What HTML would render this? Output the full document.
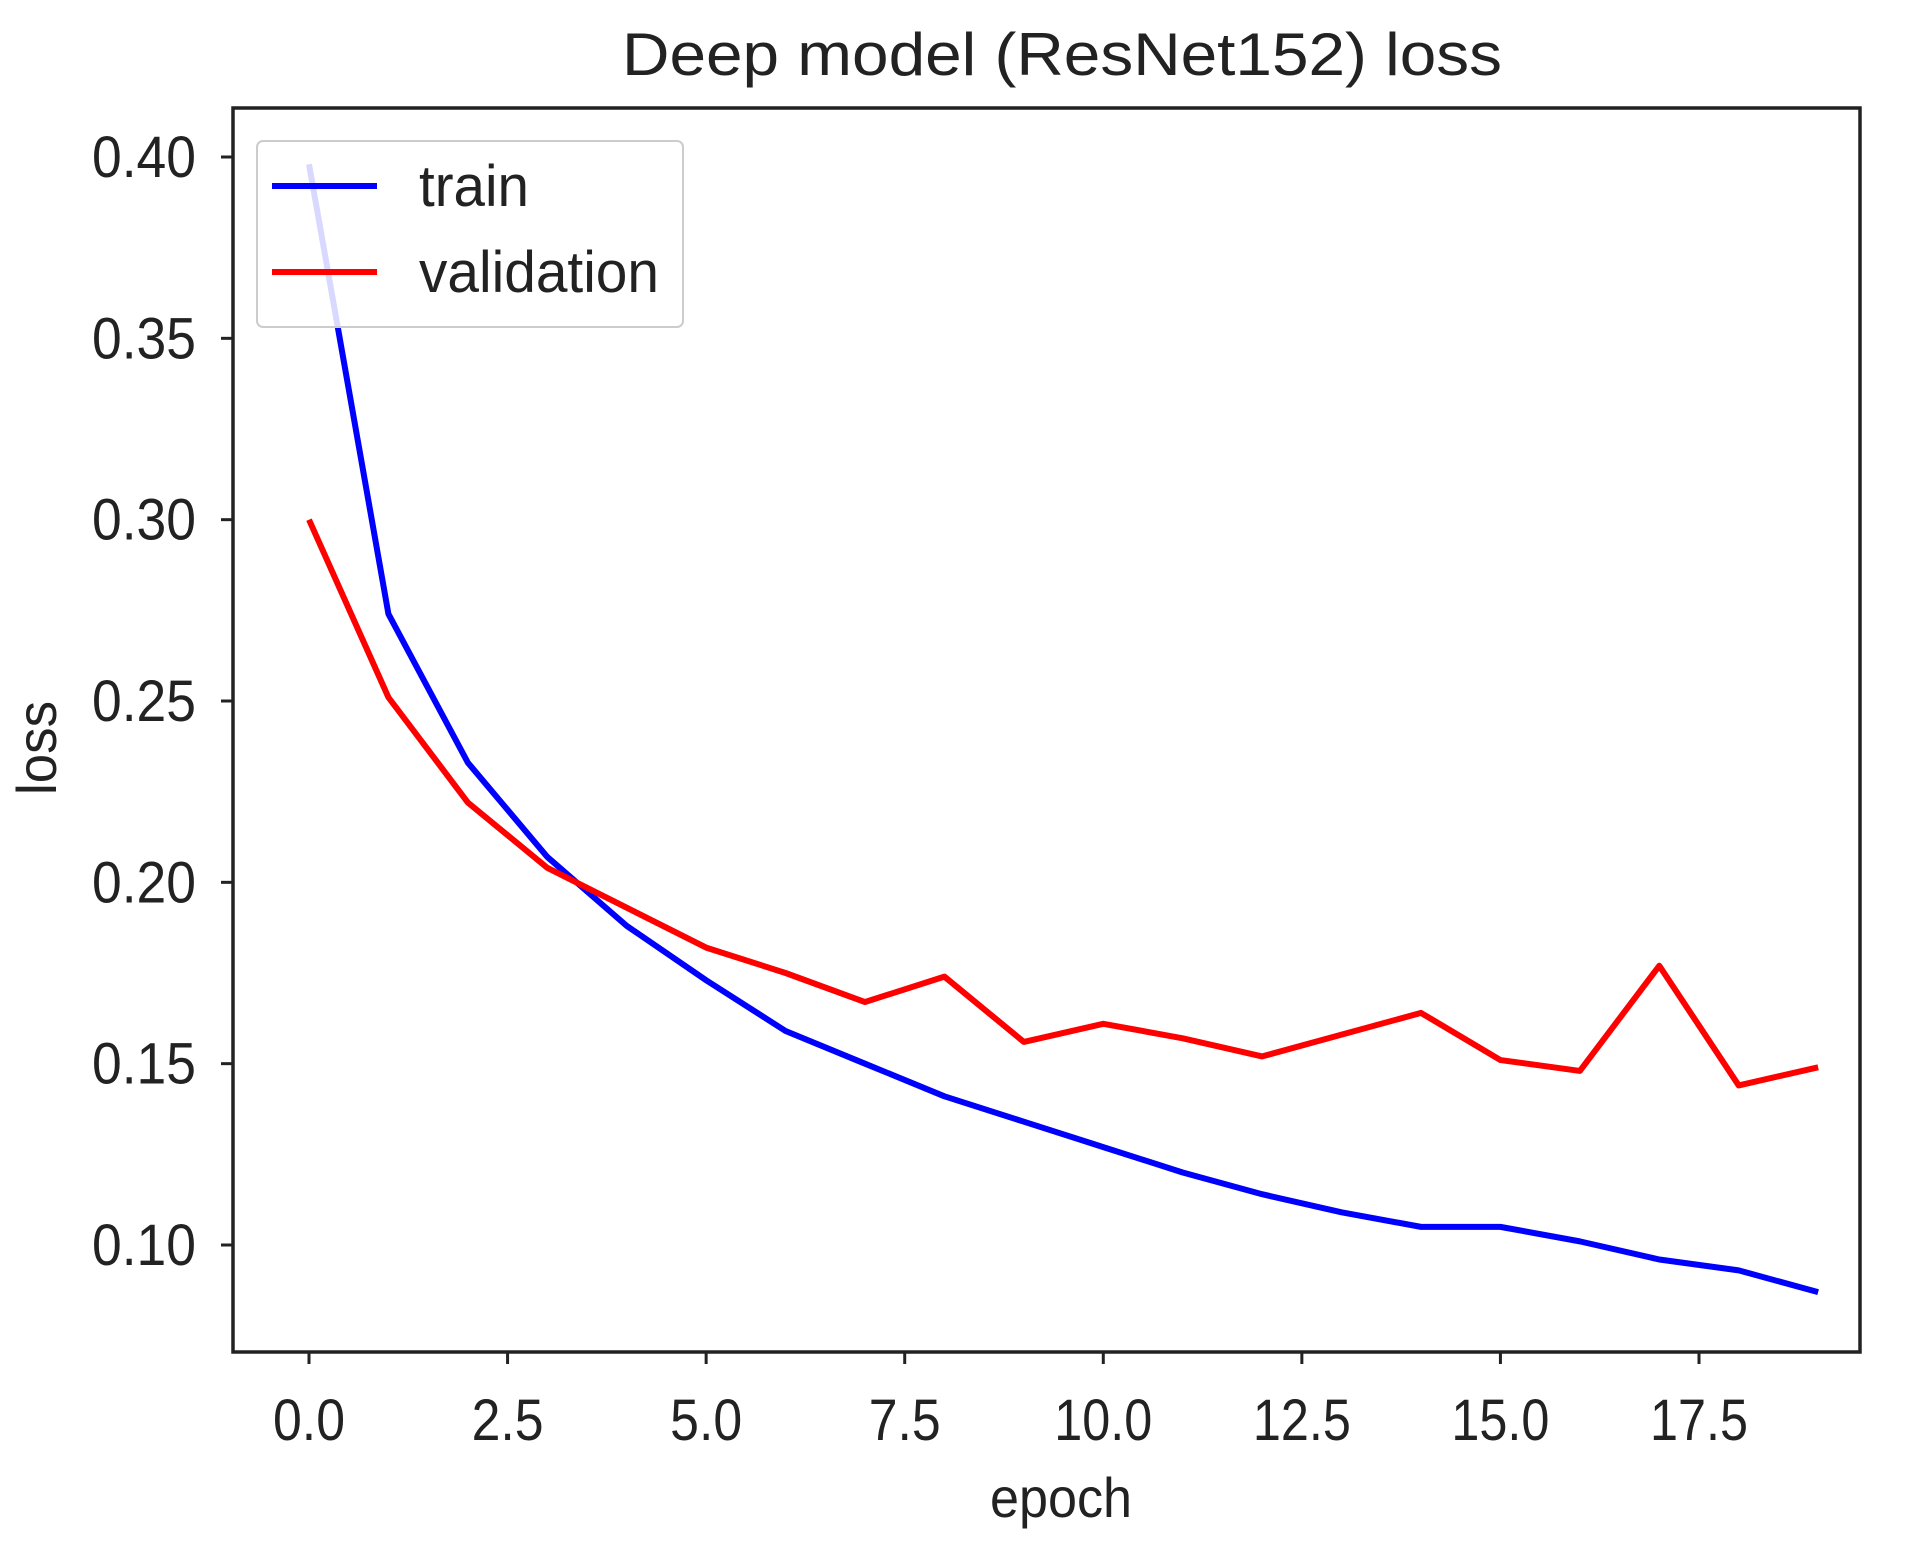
<!DOCTYPE html>
<html><head><meta charset="utf-8"><style>body{margin:0;background:#fff}svg{display:block}</style></head>
<body>
<svg id="chart" width="1918" height="1542" viewBox="0 0 1918 1542" font-family="Liberation Sans, DejaVu Sans, sans-serif">
<rect width="1918" height="1542" fill="#fff"/>
<text x="1062" y="75" font-size="60" text-anchor="middle" textLength="880" lengthAdjust="spacingAndGlyphs" fill="#222">Deep model (ResNet152) loss</text>
<text x="1061" y="1517" font-size="56" text-anchor="middle" textLength="142" lengthAdjust="spacingAndGlyphs" fill="#222">epoch</text>
<text transform="translate(56,748) rotate(-90)" font-size="56" text-anchor="middle" textLength="94" lengthAdjust="spacingAndGlyphs" fill="#222">loss</text>
<g id="ticks"></g>
<g id="lines"></g>
<rect x="233" y="108" width="1627" height="1244" fill="none" stroke="#222" stroke-width="3.5"/>
<g>
<rect x="257" y="141" width="426" height="186" rx="6" fill="#fff" fill-opacity="0.85" stroke="#ccc" stroke-width="2"/>
<line x1="272" y1="186" x2="377" y2="186" stroke="#0000ff" stroke-width="6"/>
<text x="419" y="206" font-size="58" textLength="110" lengthAdjust="spacingAndGlyphs" fill="#222">train</text>
<line x1="272" y1="272" x2="377" y2="272" stroke="#ff0000" stroke-width="6"/>
<text x="419" y="292" font-size="58" textLength="240" lengthAdjust="spacingAndGlyphs" fill="#222">validation</text>
</g>
</svg>
<script>
const epochs=[0,1,2,3,4,5,6,7,8,9,10,11,12,13,14,15,16,17,18,19];
const trainLoss=[0.398,0.274,0.233,0.207,0.188,0.173,0.159,0.150,0.141,0.134,0.127,0.120,0.114,0.109,0.105,0.105,0.101,0.096,0.093,0.087];
const valLoss=[0.300,0.251,0.222,0.204,0.193,0.182,0.175,0.167,0.174,0.156,0.161,0.157,0.152,0.158,0.164,0.151,0.148,0.177,0.144,0.149];
const xTicks=[0,2.5,5,7.5,10,12.5,15,17.5];
const xTickLabels=["0.0","2.5","5.0","7.5","10.0","12.5","15.0","17.5"];
const yTicks=[0.10,0.15,0.20,0.25,0.30,0.35,0.40];
const yTickLabels=["0.10","0.15","0.20","0.25","0.30","0.35","0.40"];
const NS='http://www.w3.org/2000/svg';
function xs(v){return 309+(v-0)*(1699-309)/17.5;}
function ys(v){return 1245-(v-0.10)*(1245-157)/0.30;}
const tg=document.getElementById('ticks');
xTicks.forEach((t,i)=>{
 const l=document.createElementNS(NS,'line');
 
 
 l.setAttribute('x1',xs(t));l.setAttribute('x2',xs(t));l.setAttribute('y1',1352);l.setAttribute('y2',1364);
 l.setAttribute('stroke','#222');l.setAttribute('stroke-width','3');tg.appendChild(l);
 const tx=document.createElementNS(NS,'text');
 
 
 tx.setAttribute('x',xs(t));tx.setAttribute('y',1440);tx.setAttribute('font-size','58');
 tx.setAttribute('text-anchor','middle');tx.setAttribute('fill','#222');
 tx.setAttribute('textLength',xTickLabels[i].length>3?98:72);tx.setAttribute('lengthAdjust','spacingAndGlyphs');
 tx.textContent=xTickLabels[i];tg.appendChild(tx);
});
yTicks.forEach((t,i)=>{
 const l=document.createElementNS(NS,'line');
 
 
 l.setAttribute('x1',221);l.setAttribute('x2',233);l.setAttribute('y1',ys(t));l.setAttribute('y2',ys(t));
 l.setAttribute('stroke','#222');l.setAttribute('stroke-width','3');tg.appendChild(l);
 const tx=document.createElementNS(NS,'text');
 
 
 tx.setAttribute('x',196);tx.setAttribute('y',ys(t)+20);tx.setAttribute('font-size','58');
 tx.setAttribute('text-anchor','end');tx.setAttribute('fill','#222');
 tx.setAttribute('textLength',104);tx.setAttribute('lengthAdjust','spacingAndGlyphs');
 tx.textContent=yTickLabels[i];tg.appendChild(tx);
});
const lg=document.getElementById('lines');
[[trainLoss,'#0000ff','train-line'],[valLoss,'#ff0000','validation-line']].forEach(([d,c,n])=>{
 const p=document.createElementNS(NS,'polyline');
 
 
 p.setAttribute('points',d.map((v,i)=>xs(epochs[i])+','+ys(v)).join(' '));
 p.setAttribute('fill','none');p.setAttribute('stroke',c);p.setAttribute('stroke-width','6');
 p.setAttribute('stroke-linejoin','round');lg.appendChild(p);
});
</script>
</body></html>
